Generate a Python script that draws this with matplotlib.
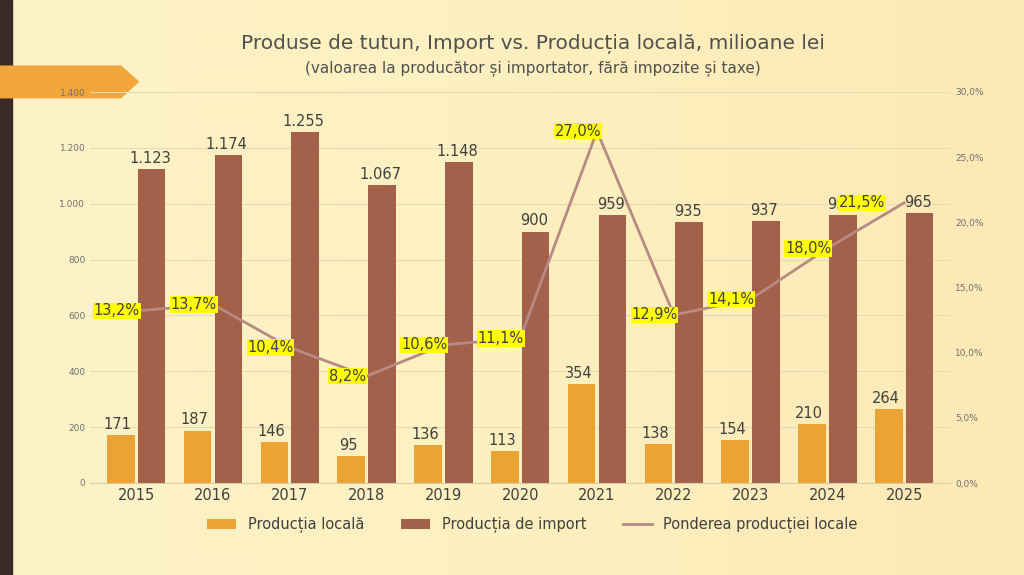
import numpy as np
import matplotlib.pyplot as plt
from matplotlib.patches import Polygon, Rectangle

years = ['2015', '2016', '2017', '2018', '2019', '2020', '2021', '2022', '2023', '2024', '2025']
local = [171, 187, 146, 95, 136, 113, 354, 138, 154, 210, 264]
imports = [1123, 1174, 1255, 1067, 1148, 900, 959, 935, 937, 958, 965]
share = [13.2, 13.7, 10.4, 8.2, 10.6, 11.1, 27.0, 12.9, 14.1, 18.0, 21.5]

def fmt_int(v):
    return f'{v:,}'.replace(',', '.')

fig = plt.figure(figsize=(10.24, 5.75), dpi=100)

# background gradient
bg = fig.add_axes([0, 0, 1, 1], zorder=-10)
grad = np.linspace(0, 1, 256)
img = np.outer(np.ones(256), grad)
bg.imshow(img, aspect='auto', cmap=plt.matplotlib.colors.LinearSegmentedColormap.from_list(
    'bg', ['#FDF3C8', '#FDF0C0', '#FCE9B4']), extent=[0, 1, 0, 1])
bg.add_patch(Rectangle((0.0, 0), 0.012, 1, color='#3B2A26'))
bg.add_patch(Polygon([[0.0, 0.885], [0.118, 0.885], [0.135, 0.858], [0.118, 0.83], [0.0, 0.83]],
                     color='#F2A53A'))
bg.set_xlim(0, 1); bg.set_ylim(0, 1); bg.axis('off')

ax = fig.add_axes([0.088, 0.16, 0.84, 0.68])
ax.patch.set_alpha(0)
ax2 = ax.twinx()
x = np.arange(len(years))
w = 0.36
ax.bar(x - w / 2 - 0.02, local, w, color='#EBA336', label='Producția locală')
ax.bar(x + w / 2 + 0.02, imports, w, color='#A3604A', label='Producția de import')
for i in range(len(years)):
    ax.text(x[i] - w / 2 - 0.06, local[i] + 12, fmt_int(local[i]), ha='center', va='bottom',
            fontsize=10.5, color='#404040')
    ax.text(x[i] + w / 2, imports[i] + 12, fmt_int(imports[i]), ha='center', va='bottom',
            fontsize=10.5, color='#404040')
ax.set_ylim(0, 1400)
ax.set_yticks(range(0, 1401, 200))
ax.set_yticklabels([fmt_int(v) for v in range(0, 1401, 200)], fontsize=6.5, color='#707070')
ax.yaxis.grid(True, color='#E6D9B5', lw=0.8)
ax.set_axisbelow(True)
ax.set_xticks(x)
ax.set_xticklabels(years, fontsize=10.5, color='#404040')
ax.set_xlim(-0.6, len(years) - 0.4)
ax.tick_params(length=0)
for s in ax.spines.values():
    s.set_visible(False)
ax.spines['bottom'].set_visible(True)
ax.spines['bottom'].set_color('#D9CBA5')

line, = ax2.plot(x, share, color='#B88A86', lw=2, label='Ponderea producției locale')
for i, v in enumerate(share):
    dx = -0.55 if i == len(share) - 1 else -0.25
    ax2.text(x[i] + dx, v, f'{v:.1f}%'.replace('.', ','), ha='center', va='center',
             fontsize=10.5, color='#404040',
             bbox=dict(boxstyle='square,pad=0.05', fc='#FFFF00', ec='none'))
ax2.set_ylim(0, 30)
ax2.set_yticks(range(0, 31, 5))
ax2.set_yticklabels([f'{v:.1f}%'.replace('.', ',') for v in range(0, 31, 5)], fontsize=6.5, color='#707070')
ax2.tick_params(length=0)
for s in ax2.spines.values():
    s.set_visible(False)

h1, l1 = ax.get_legend_handles_labels()
fig.legend(h1 + [line], l1 + [line.get_label()], loc='lower center', ncol=3, frameon=False,
           fontsize=10.5, bbox_to_anchor=(0.52, 0.05), columnspacing=2.5, labelcolor='#404040')

fig.text(0.52, 0.915, 'Produse de tutun, Import vs. Producția locală, milioane lei',
         ha='center', fontsize=14.5, color='#505050')
fig.text(0.52, 0.875, '(valoarea la producător și importator, fără impozite și taxe)',
         ha='center', fontsize=11, color='#505050')

fig.savefig('out.png', dpi=100)
